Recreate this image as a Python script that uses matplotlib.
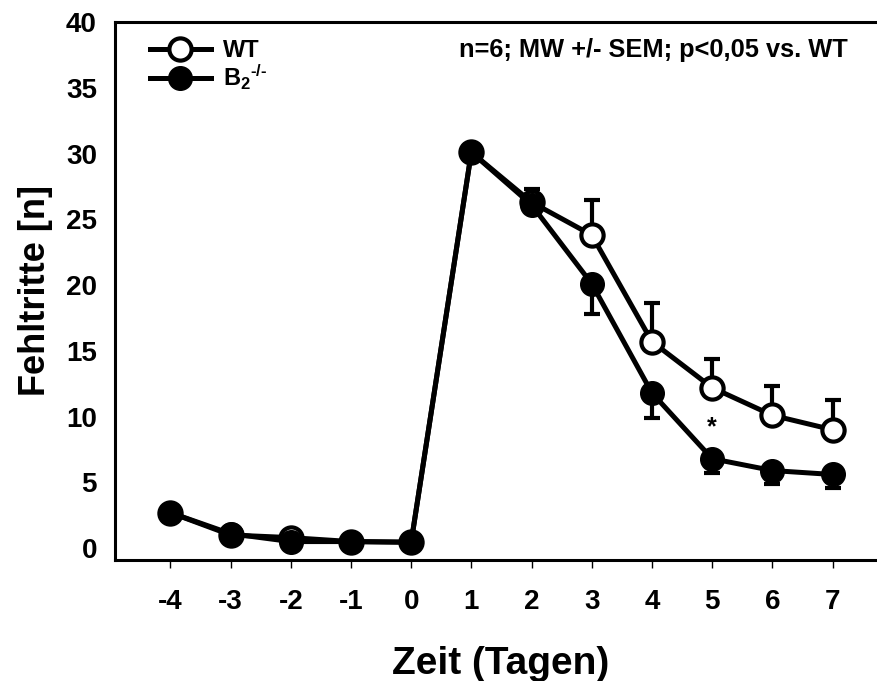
import numpy as np
import matplotlib
matplotlib.use("Agg")
import matplotlib.pyplot as plt

plt.rcParams["font.family"] = ["Liberation Sans", "DejaVu Sans"]
plt.rcParams["font.weight"] = "bold"
plt.rcParams["axes.unicode_minus"] = False
plt.rcParams["mathtext.fontset"] = "custom"
plt.rcParams["mathtext.rm"] = "Liberation Sans:bold"
plt.rcParams["mathtext.bf"] = "Liberation Sans:bold"
plt.rcParams["mathtext.it"] = "Liberation Sans:bold"

# Zeitpunkte und Mittelwerte (Fehltritte)
tage = [-4, -3, -2, -1, 0, 1, 2, 3, 4, 5, 6, 7]
wt = [2.7, 1.0, 0.8, 0.5, 0.45, 30.1, 26.3, 23.8, 15.7, 12.2, 10.1, 9.0]
wt_sem = [0, 0, 0, 0, 0, 0, 1.0, 2.7, 2.9, 2.2, 2.2, 2.3]
b2 = [2.7, 1.1, 0.5, 0.5, 0.45, 30.1, 26.1, 20.1, 11.8, 6.8, 5.9, 5.6]
b2_sem = [0, 0, 0, 0, 0, 0, 0, 2.3, 1.9, 1.1, 1.0, 1.0]
stern_tag = 5
stern_y = 9.2

fig = plt.figure(figsize=[8.77, 6.81], dpi=100)
ax = fig.add_axes([0.1311, 0.1777, 0.88, 0.79])

lw = 3.6
ms = 17
ax.errorbar(tage, wt, yerr=[np.zeros(len(wt_sem)), wt_sem], fmt="none",
            ecolor="k", elinewidth=3, capsize=6, capthick=3, zorder=2)
ax.errorbar(tage, b2, yerr=[b2_sem, np.zeros(len(b2_sem))], fmt="none",
            ecolor="k", elinewidth=3, capsize=6, capthick=3, zorder=2)
ax.plot(tage, wt, "-o", color="k", lw=lw, markersize=ms - 1,
        markerfacecolor="white", markeredgecolor="k", markeredgewidth=3,
        label="WT", zorder=3)
ax.plot(tage, b2, "-o", color="k", lw=lw, markersize=ms,
        markerfacecolor="k", markeredgecolor="k",
        label=r"B$_{2}$$^{\text{-/-}}$", zorder=4)

ax.text(stern_tag, stern_y, "*", ha="center", va="center", fontsize=18)
fig.text(848 / 877, 1 - 50 / 681, "n=6; MW +/- SEM; p<0,05 vs. WT",
         ha="right", va="center", fontsize=18.3, fontweight="bold")

ax.set_xlim(-4.92, 7.9)
ax.set_ylim(-0.9, 40)
ax.set_xticks(tage)
ax.set_yticks(np.arange(0, 41, 5))
ax.tick_params(axis="x", direction="out", length=6, width=1, labelsize=20, pad=15)
ax.tick_params(axis="y", length=0, labelsize=20, pad=13)
for lab in ax.get_xticklabels() + ax.get_yticklabels():
    lab.set_fontweight("bold")

ax.spines["right"].set_visible(False)
for s in ["left", "top", "bottom"]:
    ax.spines[s].set_linewidth(2.2)

ax.set_xlabel("Zeit (Tagen)", fontsize=28, fontweight="bold", labelpad=22)
ax.set_ylabel("Fehltritte [n]", fontsize=26, fontweight="bold", labelpad=9)

leg = ax.legend(loc="upper left", bbox_to_anchor=(0.005, 1.025),
                frameon=False, fontsize=17, handlelength=2.6, handletextpad=0.5,
                labelspacing=0.0, borderaxespad=0.9)

fig.savefig("out.png", dpi=100)
